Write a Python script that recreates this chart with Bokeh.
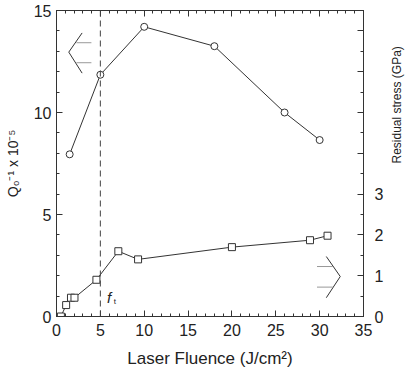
import math
from bokeh.plotting import figure
from bokeh.models import Range1d, LinearAxis, SingleIntervalTicker, FixedTicker, Span
from bokeh.core.properties import value
from bokeh.embed import file_html
from bokeh.resources import INLINE

# Data
fluence_q = [1.5, 5, 10, 18, 26, 30]
q_inv = [7.95, 11.85, 14.2, 13.25, 10.0, 8.65]          # Q0^-1 x 10^-5
fluence_s = [0.5, 1.1, 1.65, 2.05, 4.55, 7.05, 9.3, 20.0, 28.9, 30.9]
stress_gpa = [0.0, 0.28, 0.46, 0.46, 0.9, 1.6, 1.4, 1.7, 1.87, 1.98]
threshold = 5
x_label = "Laser Fluence (J/cm²)"
yl_label = "Q₀⁻¹ x 10⁻⁵"
yr_label = "Residual stress (GPa)"

# arrow annotations (data coords)
la_x = [2.92, 1.4, 2.92]; la_y = [13.9, 12.96, 11.93]
la_h_x = [[2.27, 3.98], [2.27, 3.98]]; la_h_y = [[13.42, 13.42], [12.44, 12.44]]
ra_x = [30.76, 32.35, 30.76]; ra_y = [2.94, 1.96, 0.92]
ra_h_x = [[29.7, 31.5], [29.7, 31.5]]; ra_h_y = [[2.45, 2.45], [1.44, 1.44]]

FONT = "Liberation Sans"
INK = "#333333"
TXT = "#222222"

p = figure(width=415, height=371, output_backend="svg", toolbar_location=None,
           x_range=Range1d(0, 35), y_range=Range1d(0, 15),
           min_border_left=56, min_border_top=10, min_border_right=52,
           min_border_bottom=55)
p.extra_y_ranges = {"stress": Range1d(0, 7.5)}
p.grid.visible = False
p.outline_line_color = INK
p.background_fill_color = "white"
p.border_fill_color = "white"

def style(ax):
    ax.axis_line_color = INK
    ax.major_tick_line_color = INK
    ax.minor_tick_line_color = INK
    ax.major_tick_in = 6
    ax.major_tick_out = 0
    ax.minor_tick_in = 3
    ax.minor_tick_out = 0
    ax.major_label_text_font = FONT
    ax.major_label_text_font_size = "16px"
    ax.major_label_text_color = TXT
    ax.axis_label_text_font = FONT
    ax.axis_label_text_font_size = "14px"
    ax.axis_label_text_font_style = "normal"
    ax.axis_label_text_color = TXT

xb = p.xaxis[0]
xb.ticker = SingleIntervalTicker(interval=5, num_minor_ticks=5)
xb.axis_label = x_label
style(xb)
xb.axis_label_text_font_size = "17px"
xb.major_label_standoff = 7
xb.axis_label_standoff = 10

yl = p.yaxis[0]
yl.ticker = SingleIntervalTicker(interval=5, num_minor_ticks=5)
yl.axis_label = yl_label
style(yl)
yl.major_label_standoff = 5
yl.axis_label_standoff = 10

xt = LinearAxis(ticker=SingleIntervalTicker(interval=5, num_minor_ticks=5))
style(xt)
xt.major_label_overrides = {i: "" for i in range(0, 40, 5)}
xt.major_label_standoff = 0
p.add_layout(xt, "above")

yr = LinearAxis(y_range_name="stress",
                ticker=FixedTicker(ticks=[0, 1, 2, 3, 4, 5, 6, 7],
                                   minor_ticks=[0.5 * i for i in range(16)]))
style(yr)
yr.major_label_overrides = {4: "", 5: "", 6: "", 7: ""}
yr.major_label_standoff = 11
yr.axis_label = yr_label
yr.axis_label_text_font_size = "12px"
yr.axis_label_standoff = 11
if "axis_label_orientation" in yr.properties():
    yr.axis_label_orientation = math.pi / 2
p.add_layout(yr, "right")

p.add_layout(Span(location=threshold, dimension="height", line_color="#444444",
                  line_dash="6 4", line_width=1))

p.line(fluence_q, q_inv, line_color=INK, line_width=1)
p.scatter(fluence_q, q_inv, marker="circle", size=7, fill_color="white",
          line_color=INK, line_width=1)

p.line(fluence_s, stress_gpa, y_range_name="stress", line_color=INK, line_width=1)
p.scatter(fluence_s, stress_gpa, y_range_name="stress", marker="square", size=7,
          fill_color="white", line_color=INK, line_width=1)

# arrows
p.line(la_x, la_y, line_color=INK, line_width=1)
p.multi_line(la_h_x, la_h_y, line_color="#999999", line_width=1)
p.line(ra_x, ra_y, line_color=INK, line_width=1)
p.multi_line(ra_h_x, ra_h_y, line_color="#999999", line_width=1)

# threshold label f_t
p.text(x=[6.0], y=[0.95], text=["f"], text_font=value(FONT), text_font_size="15px",
       text_font_style="italic", text_color=TXT, text_align="center",
       text_baseline="middle")
p.text(x=[6.65], y=[0.72], text=["t"], text_font=value(FONT), text_font_size="8px",
       text_color=TXT, text_align="center", text_baseline="middle")

open("out.html", "w").write(file_html(p, INLINE))
